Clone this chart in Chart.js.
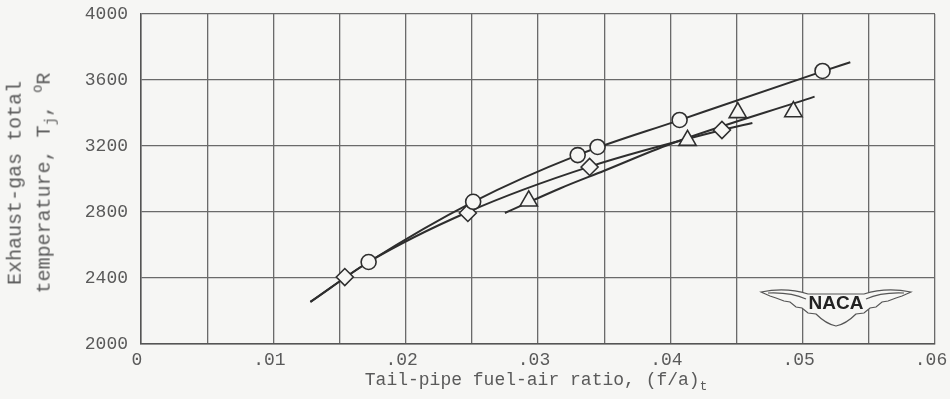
<!DOCTYPE html>
<html>
<head>
<meta charset="utf-8">
<script src="https://cdn.jsdelivr.net/npm/chart.js@4.4.0/dist/chart.umd.min.js"></script>
<style>
  body { margin: 0; background: #f6f6f4; font-family: "Liberation Mono", monospace; color: #5a5a5a; }
  #wrap { position: relative; width: 950px; height: 399px; }
  #chart { position: absolute; left: 0; top: 0; }
  .ttl { position: absolute; white-space: nowrap; color: #5a5a5a; }
  #xtitle { left: 536px; top: 382px; transform: translate(-50%, -50%); font-size: 18px; }
  #ytitle { left: 33px; top: 183px; transform: translate(-50%, -50%) rotate(-90deg); font-size: 20px; line-height: 22px; text-align: center; }
  sub, sup { font-size: 70%; }
</style>
</head>
<body>
<div id="wrap">
  <canvas id="chart" width="950" height="399"></canvas>
  <div class="ttl" id="xtitle">Tail-pipe fuel-air ratio, (f/a)<sub>t</sub></div>
  <div class="ttl" id="ytitle">Exhaust-gas total<br>temperature, T<sub>j</sub>, <sup>o</sup>R</div>
</div>
<script>
// data
const circleX = [0.0172, 0.0251, 0.0330, 0.0345, 0.0407, 0.0515];
const circleY = [2497, 2862, 3145, 3194, 3358, 3655];
const diamondX = [0.0154, 0.0247, 0.0339, 0.0439];
const diamondY = [2406, 2794, 3073, 3297];
const triangleX = [0.0293, 0.0413, 0.0451, 0.0493];
const triangleY = [2867, 3234, 3402, 3408];

// faired curves
const circleCurveX = [0.0128, 0.0172, 0.0251, 0.0330, 0.0407, 0.0515, 0.0536];
const circleCurveY = [2255, 2497, 2862, 3145, 3357, 3652, 3708];
const diamondCurveX = [0.0128, 0.0172, 0.0247, 0.0339, 0.0439, 0.0462];
const diamondCurveY = [2255, 2497, 2800, 3075, 3297, 3339];
const triangleCurveX = [0.0275, 0.0317, 0.0350, 0.0400, 0.0509];
const triangleCurveY = [2794, 2944, 3050, 3212, 3499];

const xTicks = [0, 0.01, 0.02, 0.03, 0.04, 0.05, 0.06];
const yTicks = [2000, 2400, 2800, 3200, 3600, 4000];

const bg = "#f6f6f4";
const ink = "#2e2e2e";

const pts = (xs, ys) => xs.map((x, i) => ({ x: x, y: ys[i] }));

const markerSet = (xs, ys, style, r) => ({
  data: pts(xs, ys),
  showLine: false,
  pointStyle: style,
  pointRadius: r,
  pointBackgroundColor: bg,
  pointBorderColor: ink,
  pointBorderWidth: 1.6,
  order: 0,
});

const curveSet = (xs, ys) => ({
  data: pts(xs, ys),
  showLine: true,
  borderColor: ink,
  borderWidth: 2,
  pointRadius: 0,
  cubicInterpolationMode: "monotone",
  order: 1,
});

// NACA wings in the lower right corner
const nacaLogo = {
  id: "nacaLogo",
  afterDatasetsDraw(chart) {
    const c = chart.ctx;
    const a = chart.chartArea;
    const cx = a.right - 99;
    const cy = a.bottom - 40;
    c.save();
    c.translate(cx, cy);
    c.beginPath();
    c.moveTo(-75, -12);
    c.quadraticCurveTo(-50, -17, -28, -10);
    c.lineTo(28, -10);
    c.quadraticCurveTo(50, -17, 75, -12);
    c.lineTo(66, -8);
    c.lineTo(60, -6);
    c.lineTo(52, -3);
    c.lineTo(46, -2);
    c.lineTo(40, 3);
    c.lineTo(34, 4);
    c.lineTo(28, 9);
    c.lineTo(20, 10);
    c.quadraticCurveTo(10, 20, 0, 22);
    c.quadraticCurveTo(-10, 20, -20, 10);
    c.lineTo(-28, 9);
    c.lineTo(-34, 4);
    c.lineTo(-40, 3);
    c.lineTo(-46, -2);
    c.lineTo(-52, -3);
    c.lineTo(-60, -6);
    c.lineTo(-66, -8);
    c.closePath();
    c.fillStyle = bg;
    c.fill();
    c.strokeStyle = "#555";
    c.lineWidth = 1.2;
    c.stroke();
    c.beginPath();
    c.moveTo(-68, -11);
    c.quadraticCurveTo(-45, -12, -30, -5);
    c.moveTo(68, -11);
    c.quadraticCurveTo(45, -12, 30, -5);
    c.stroke();
    c.fillStyle = "#222";
    c.font = "bold 19px 'Liberation Sans', Arial, sans-serif";
    c.textAlign = "center";
    c.textBaseline = "middle";
    c.fillText("NACA", 0, 0);
    c.restore();
  },
};

new Chart(document.getElementById("chart"), {
  type: "scatter",
  data: {
    datasets: [
      markerSet(circleX, circleY, "circle", 7.5),
      markerSet(diamondX, diamondY, "rectRot", 8.5),
      markerSet(triangleX, triangleY, "triangle", 10),
      curveSet(circleCurveX, circleCurveY),
      curveSet(diamondCurveX, diamondCurveY),
      curveSet(triangleCurveX, triangleCurveY),
    ],
  },
  options: {
    responsive: false,
    animation: false,
    devicePixelRatio: 1,
    layout: { padding: { top: 14, right: 15, left: 0, bottom: 0 } },
    plugins: { legend: { display: false }, tooltip: { enabled: false } },
    scales: {
      x: {
        type: "linear",
        min: 0,
        max: 0.06,
        afterFit: (s) => { s.height = 55; s.paddingLeft = 0; s.paddingRight = 0; },
        grid: { color: "#6a6a6a", lineWidth: 1.3, drawTicks: false },
        border: { color: "#555", width: 1.5 },
        ticks: {
          stepSize: 0.005,
          padding: 5,
          labelOffset: -4,
          color: "#5a5a5a",
          font: { family: "Liberation Mono", size: 18 },
          callback: (v) => {
            const hit = xTicks.find((t) => Math.abs(t - v) < 1e-6);
            if (hit === undefined) return "";
            return hit === 0 ? "0" : hit.toFixed(2).replace(/^0/, "");
          },
        },
      },
      y: {
        min: 2000,
        max: 4000,
        afterFit: (s) => { s.width = 141; s.paddingTop = 0; s.paddingBottom = 0; },
        afterBuildTicks: (s) => { s.ticks = yTicks.map((v) => ({ value: v })); },
        grid: { color: "#6a6a6a", lineWidth: 1.3, drawTicks: false },
        border: { color: "#555", width: 1.5 },
        ticks: {
          padding: 13,
          color: "#5a5a5a",
          font: { family: "Liberation Mono", size: 18 },
          callback: (v) => String(v),
        },
      },
    },
  },
  plugins: [nacaLogo],
});
</script>
</body>
</html>
